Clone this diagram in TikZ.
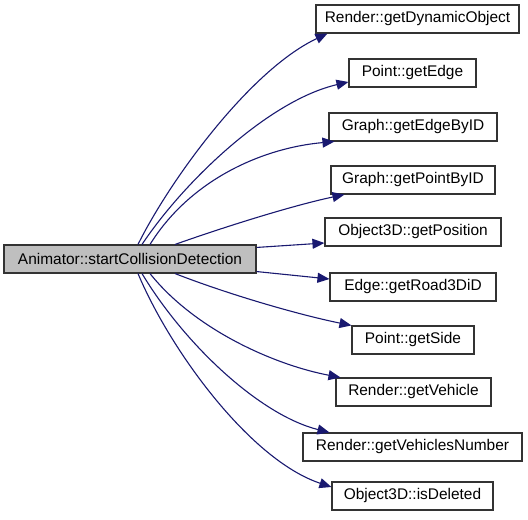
\documentclass[tikz,border=0pt]{standalone}
\usepackage{fontspec}
\setmainfont{Liberation Sans}
\usetikzlibrary{arrows.meta, positioning, calc}
\definecolor{edgeblue}{HTML}{191970}
\definecolor{mainfill}{HTML}{BFBFBF}

\begin{document}
\begin{tikzpicture}[x=1bp, y=-1bp,
    fn/.style={draw=black!80, line width=1.1bp, minimum height=28bp, inner sep=0pt, font=\fontsize{15.5}{18}\selectfont},
    arrow/.style={-{Triangle[length=12bp, width=10bp]}, draw=edgeblue, line width=1.1bp}
]
    \useasboundingbox (0,0) rectangle (528,520);
    % caller
    \node[fn, fill=mainfill, minimum width=252bp] (start) at (130,259) {Animator::startCollisionDetection};
    % callees
    \node[fn, minimum width=203bp] (dyn) at (417.5,19) {Render::getDynamicObject};
    \node[fn, minimum width=127bp] (edge) at (412.5,73) {Point::getEdge};
    \node[fn, minimum width=168bp] (ebid) at (413,127) {Graph::getEdgeByID};
    \node[fn, minimum width=164bp] (pbid) at (413,180) {Graph::getPointByID};
    \node[fn, minimum width=176bp] (pos) at (413,232) {Object3D::getPosition};
    \node[fn, minimum width=166bp] (road) at (413,287) {Edge::getRoad3DiD};
    \node[fn, minimum width=122bp] (side) at (413,340) {Point::getSide};
    \node[fn, minimum width=155bp] (veh) at (413.5,392) {Render::getVehicle};
    \node[fn, minimum width=219bp] (vnum) at (412.5,447) {Render::getVehiclesNumber};
    \node[fn, minimum width=161bp] (del) at (412.5,496) {Object3D::isDeleted};
    % calls
    \draw[arrow] ($(start.north)+(8,0)$) .. controls (170,180) and (250,70) .. ($(dyn.south west)+(12,0)$);
    \draw[arrow] ($(start.north)+(12,0)$) .. controls (185,180) and (270,100) .. ($(edge.west)+(0,9)$);
    \draw[arrow] ($(start.north)+(20,0)$) .. controls (190,180) and (262,148) .. ($(ebid.south west)+(6,0)$);
    \draw[arrow] ($(start.north)+(45,0)$) .. controls (230,225) and (295,205) .. ($(pbid.south west)+(14,0)$);
    \draw[arrow] ($(start.north east)+(0,3)$) -- ($(pos.west)+(0,11)$);
    \draw[arrow] ($(start.south east)+(0,-2)$) -- ($(road.west)+(0,-8)$);
    \draw[arrow] ($(start.south)+(45,0)$) .. controls (230,295) and (300,315) .. ($(side.north west)+(0,0)$);
    \draw[arrow] ($(start.south)+(20,0)$) .. controls (195,330) and (275,365) .. ($(veh.north west)+(5,0)$);
    \draw[arrow] ($(start.south)+(12,0)$) .. controls (185,345) and (260,415) .. ($(vnum.north west)+(27,0)$);
    \draw[arrow] ($(start.south)+(8,0)$) .. controls (170,350) and (250,460) .. ($(del.west)+(0,-9)$);
\end{tikzpicture}
\end{document}
